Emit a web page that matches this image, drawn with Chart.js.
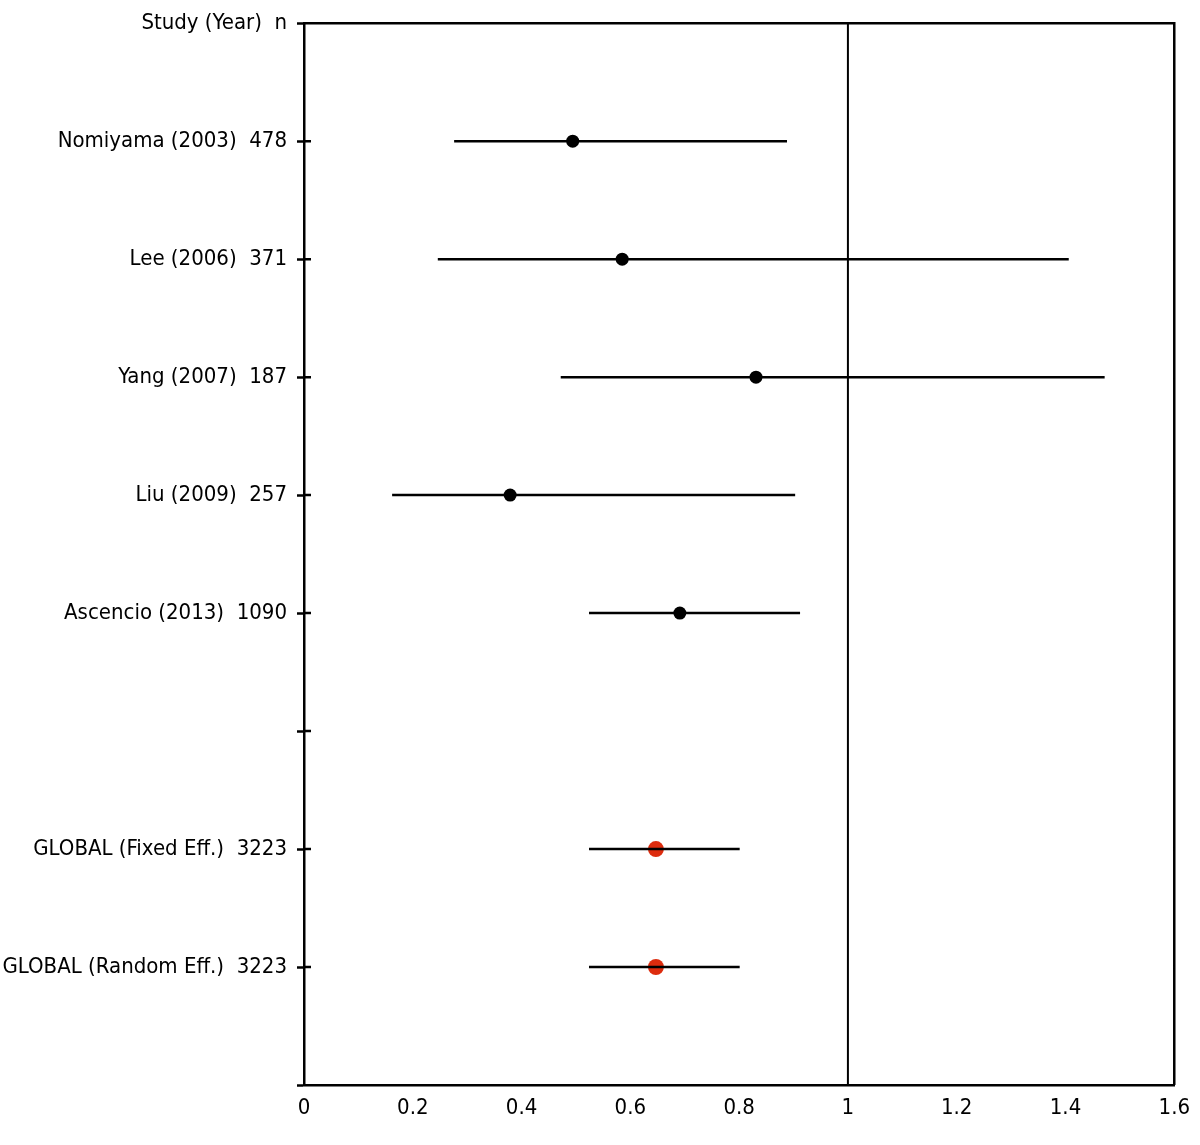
<!DOCTYPE html>
<html>
<head>
<meta charset="utf-8">
<script src="https://cdn.jsdelivr.net/npm/chart.js@4/dist/chart.umd.min.js"></script>
<style>
  html, body { margin: 0; padding: 0; background: #fff; }
  #wrap { width: 1200px; height: 1145px; }
</style>
</head>
<body>
<div id="wrap"><canvas id="myChart" width="1200" height="1145"></canvas></div>
<script>
// rows, top to bottom (index = y position)
var rowLabels = ['Study (Year)  n', 'Nomiyama (2003)  478', 'Lee (2006)  371', 'Yang (2007)  187',
                 'Liu (2009)  257', 'Ascencio (2013)  1090', '', 'GLOBAL (Fixed Eff.)  3223',
                 'GLOBAL (Random Eff.)  3223', ''];
var studyRows = [1, 2, 3, 4, 5];
var studyEst = [0.494, 0.585, 0.831, 0.379, 0.691];
var studyLow = [0.276, 0.246, 0.472, 0.162, 0.524];
var studyHigh = [0.888, 1.406, 1.472, 0.903, 0.912];
var globalRows = [7, 8];
var globalEst = [0.647, 0.647];
var globalLow = [0.524, 0.524];
var globalHigh = [0.801, 0.801];
var xTicks = [0, 0.2, 0.4, 0.6, 0.8, 1, 1.2, 1.4, 1.6];

var fontFam = '"DejaVu Sans Condensed", "Liberation Sans Narrow", sans-serif';
var datasets = [];

// confidence interval lines
function addCI(rows, lo, hi) {
    for (var i = 0; i < rows.length; i++) {
        datasets.push({
            data: [{x: lo[i], y: rows[i]}, {x: hi[i], y: rows[i]}],
            showLine: true,
            borderColor: '#000',
            borderWidth: 2.5,
            pointRadius: 0,
            pointHoverRadius: 0
        });
    }
}
addCI(studyRows, studyLow, studyHigh);
addCI(globalRows, globalLow, globalHigh);

// line of no effect
datasets.push({
    data: [{x: 1, y: 0}, {x: 1, y: 9}],
    showLine: true,
    borderColor: '#000',
    borderWidth: 2,
    pointRadius: 0
});

datasets.push({
    data: studyRows.map(function (r, i) { return {x: studyEst[i], y: r}; }),
    backgroundColor: '#000',
    borderColor: '#000',
    pointRadius: 6.5,
    borderWidth: 0
});
datasets.push({
    data: globalRows.map(function (r, i) { return {x: globalEst[i], y: r}; }),
    backgroundColor: '#dd2c0e',
    borderColor: '#dd2c0e',
    pointRadius: 8,
    borderWidth: 0
});

// frame on top/right + inner half of the y ticks
var framePlugin = {
    id: 'frame',
    afterDatasetsDraw: function (chart) {
        var ctx = chart.ctx, a = chart.chartArea, y = chart.scales.y;
        ctx.save();
        ctx.strokeStyle = '#000';
        ctx.lineWidth = 2.5;
        ctx.beginPath();
        ctx.moveTo(a.left, a.top);
        ctx.lineTo(a.right, a.top);
        ctx.lineTo(a.right, a.bottom);
        for (var v = 1; v < 9; v++) {
            var py = y.getPixelForValue(v);
            ctx.moveTo(a.left, py);
            ctx.lineTo(a.left + 7, py);
        }
        ctx.stroke();
        ctx.restore();
    }
};

var ctx = document.getElementById('myChart').getContext('2d');
new Chart(ctx, {
    type: 'scatter',
    data: {datasets: datasets},
    plugins: [framePlugin],
    options: {
        responsive: false,
        animation: false,
        layout: {padding: {top: 21, right: 24, left: 0, bottom: 0}},
        plugins: {legend: {display: false}, tooltip: {enabled: false}},
        scales: {
            x: {
                type: 'linear',
                min: 0,
                max: 1.6,
                afterBuildTicks: function (s) { s.ticks = xTicks.map(function (v) { return {value: v}; }); },
                ticks: {
                    color: '#000',
                    font: {family: fontFam, size: 22},
                    padding: 10,
                    maxRotation: 0,
                    callback: function (v) { return String(Math.round(v * 10) / 10); }
                },
                grid: {display: true, drawOnChartArea: false, drawTicks: false},
                border: {display: true, color: '#000', width: 2.5},
                afterFit: function (s) { s.height = 60; }
            },
            y: {
                type: 'linear',
                reverse: true,
                min: 0,
                max: 9,
                afterBuildTicks: function (s) {
                    s.ticks = rowLabels.map(function (l, i) { return {value: i}; });
                },
                ticks: {
                    color: '#000',
                    font: {family: fontFam, size: 22},
                    padding: 10,
                    callback: function (v) { return rowLabels[v]; }
                },
                grid: {drawOnChartArea: false, drawTicks: true, tickLength: 7, color: '#000', tickWidth: 2.5},
                border: {display: true, color: '#000', width: 2.5},
                afterFit: function (s) { s.width = 304; }
            }
        }
    }
});
</script>
</body>
</html>
